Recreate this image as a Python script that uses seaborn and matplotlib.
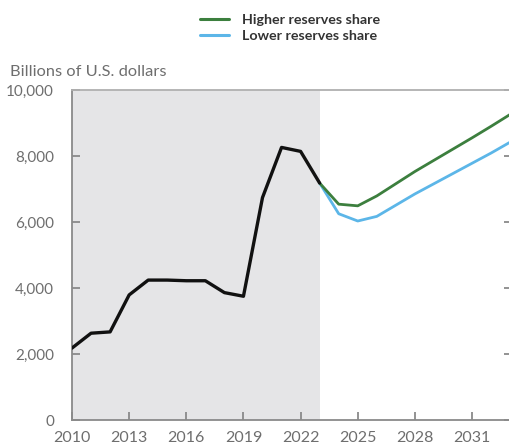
import matplotlib
matplotlib.use("Agg")
import matplotlib.pyplot as plt
import matplotlib.ticker as mticker
import seaborn as sns
import pandas as pd
from matplotlib.lines import Line2D

hist_years = [2010, 2011, 2012, 2013, 2014, 2015, 2016, 2017, 2018, 2019, 2020, 2021, 2022, 2023]
hist_values = [2180, 2630, 2670, 3790, 4240, 4240, 4220, 4220, 3860, 3750, 6740, 8260, 8140, 7180]

proj_years = [2023, 2024, 2025, 2026, 2027, 2028, 2029, 2030, 2031, 2032, 2033]
higher_share = [7180, 6540, 6490, 6790, 7160, 7530, 7870, 8210, 8550, 8900, 9260]
lower_share = [7180, 6250, 6030, 6170, 6510, 6850, 7160, 7470, 7780, 8090, 8420]

series_names = ["Higher reserves share", "Lower reserves share"]
x_ticks = [2010, 2013, 2016, 2019, 2022, 2025, 2028, 2031]
y_ticks = [0, 2000, 4000, 6000, 8000, 10000]

sns.set_theme(style="white")
plt.rcParams['font.family'] = ['Lato', 'DejaVu Sans']

GREEN = "#3c7f3e"
BLUE = "#5cb6e8"
GRAY_TXT = "#6e6e6e"
SPINE = "#8a8a8a"

hist_df = pd.DataFrame({"year": hist_years, "value": hist_values})
proj_df = pd.concat([
    pd.DataFrame({"year": proj_years, "value": lower_share, "series": series_names[1]}),
    pd.DataFrame({"year": proj_years, "value": higher_share, "series": series_names[0]}),
])

fig = plt.figure(figsize=(5.10, 4.48), dpi=100)
ax = fig.add_axes([72 / 510, 28 / 448, 440 / 510, 330 / 448])

ax.axvspan(2010, 2023, color="#e5e5e7", lw=0, zorder=0)

sns.lineplot(data=proj_df, x="year", y="value", hue="series",
             palette={series_names[0]: GREEN, series_names[1]: BLUE},
             linewidth=2.0, ax=ax, legend=False, zorder=3)
sns.lineplot(data=hist_df, x="year", y="value", color="#111111",
             linewidth=2.4, ax=ax, zorder=4)

ax.set_xlim(2010, 2010 + 440 / 19.05)
ax.set_ylim(0, 10000)
ax.set_xticks(x_ticks)
ax.set_yticks(y_ticks)
ax.yaxis.set_major_formatter(mticker.FuncFormatter(lambda v, p: f"{int(v):,}"))
ax.set_xlabel("")
ax.set_ylabel("")

for s in ["left", "bottom", "top", "right"]:
    ax.spines[s].set_visible(True)
    ax.spines[s].set_color(SPINE)
    ax.spines[s].set_linewidth(1.3)
ax.spines["top"].set_color("#b0b0b0")

ax.tick_params(axis="both", direction="in", length=6, width=1.3, color=SPINE,
               labelcolor=GRAY_TXT, right=True, left=True, bottom=True)
ax.tick_params(axis="y", pad=13, labelsize=11)
ax.tick_params(axis="x", pad=8, labelsize=11.5)

fig.text(10 / 510, 1 - 72 / 448, "Billions of U.S. dollars", fontsize=11.8,
         color=GRAY_TXT, ha="left", va="center")

handles = [Line2D([0], [0], color=GREEN, lw=2.2), Line2D([0], [0], color=BLUE, lw=2.2)]
leg = fig.legend(handles, series_names, loc="center left",
                 bbox_to_anchor=(193 / 510, 1 - 28 / 448), frameon=False,
                 fontsize=10.3, handlelength=2.0, handletextpad=0.9,
                 labelspacing=0.3, borderpad=0)
for t in leg.get_texts():
    t.set_color("#333333")
    t.set_fontweight("bold")

fig.savefig("out.png", dpi=100)
